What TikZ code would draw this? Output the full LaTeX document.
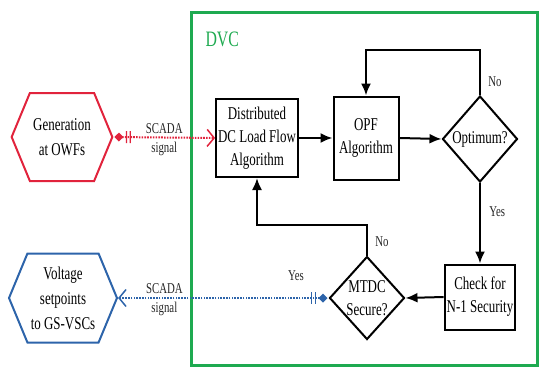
\documentclass[tikz,border=0pt]{standalone}
\usepackage{fontspec}
\setmainfont{Liberation Serif}[FakeStretch=0.72]
\definecolor{dvcgreen}{RGB}{30,170,80}
\definecolor{scadared}{RGB}{225,35,60}
\definecolor{scadablue}{RGB}{45,100,170}
\usetikzlibrary{positioning,shapes,arrows.meta,calc}

\begin{document}
\begin{tikzpicture}[x=1pt,y=-1pt,
    block/.style={draw,line width=2pt,rectangle,align=center,inner sep=2pt,font=\fontsize{18}{23}\selectfont},
    decide/.style={draw,line width=2pt,diamond,align=center,inner sep=-3pt,font=\fontsize{18}{23}\selectfont},
    hexa/.style={draw,line width=2pt,signal,signal to=west and east,signal pointer angle=135,align=center,font=\fontsize{18}{25}\selectfont},
    flow/.style={line width=2pt,-{Latex[length=12pt,width=10pt]}},
    scada/.style={line width=2pt,dash pattern=on 1.6pt off 1.2pt,{Diamond[length=9pt,width=9pt,sep=1pt] Bar[width=12pt,line width=1.2pt,sep=2.5pt] Bar[width=12pt,line width=1.2pt,sep=2.5pt]}-{Straight Barb[length=7pt,width=17pt,line width=1.5pt]}},
    lbl/.style={text=black!85,font=\fontsize{15}{18}\selectfont}]
    \useasboundingbox (0,0) rectangle (539,367);
    % DVC frame
    \draw[dvcgreen,line width=3pt] (191,12) rectangle (537,365);
    \node[dvcgreen,anchor=west,font=\fontsize{22}{22}\selectfont] (dvc) at (202,39) {DVC};

    \node[block,minimum width=80,minimum height=78] (dclf) at (257,138) {Distributed\\DC Load Flow\\Algorithm};
    \node[block,minimum width=65,minimum height=83] (opf) at (366,138) {OPF\\Algorithm};
    \node[decide,minimum width=75,minimum height=86] (optim) at (480,139) {Optimum?};
    \node[block,minimum width=68,minimum height=65] (nsec) at (480,297) {Check for\\N-1 Security};
    \node[decide,minimum width=75,minimum height=83] (mtdc) at (367,298) {MTDC\\Secure?};

    \node[hexa,draw=scadared,minimum width=99,minimum height=88] (owf) at (62,137) {Generation\\at OWFs};
    \node[hexa,draw=scadablue,minimum width=103,minimum height=89] (gsvsc) at (63,298) {Voltage\\setpoints\\to GS-VSCs};

    \coordinate (loopa) at (480,50);
    \coordinate (loopb) at (367,225);

    \draw[flow] (dclf.east) -- (opf.west);
    \draw[flow] (opf.east) -- (optim.west);
    \draw[flow] (optim.north) -- node[lbl,right,pos=0.3,xshift=4pt] (no1) {No} (loopa) -| (opf.north);
    \draw[flow] (optim.south) -- node[lbl,right,pos=0.36,xshift=5pt] (yes1) {Yes} (nsec.north);
    \draw[flow] (nsec.west) -- (mtdc.east);
    \draw[flow] (mtdc.north) -- node[lbl,right,pos=0.45,xshift=4pt] (no2) {No} (loopb) -| (dclf.south);
    \node[lbl] (yes2) at (296,276) {Yes};

    % SCADA links
    \draw[scada,scadared] (owf.east) -- node[lbl,above] (sc1) {SCADA} node[lbl,below] (sg1) {signal} (dclf.west);
    \draw[scada,scadablue] (mtdc.west) -- node[lbl,above,pos=0.78] (sc2) {SCADA} node[lbl,below,pos=0.78] (sg2) {signal} (gsvsc.east);
\end{tikzpicture}
\end{document}
